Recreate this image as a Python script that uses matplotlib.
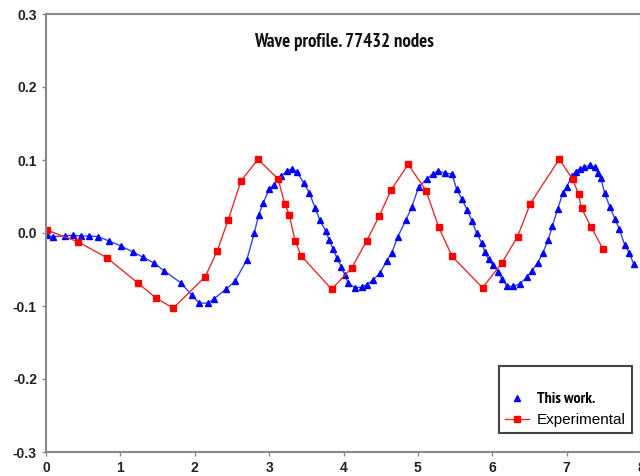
import matplotlib.pyplot as plt
from matplotlib.lines import Line2D
from matplotlib import font_manager

# Experimental (red squares)
exp_x = [0.01, 0.43, 0.82, 1.24, 1.48, 1.71, 2.14, 2.30, 2.45, 2.62, 2.85, 3.12,
         3.21, 3.27, 3.35, 3.43, 3.84, 4.11, 4.31, 4.48, 4.64, 4.87, 5.11, 5.28,
         5.46, 5.87, 6.13, 6.34, 6.51, 6.90, 7.08, 7.16, 7.20, 7.33, 7.49]
exp_y = [0.004, -0.012, -0.034, -0.069, -0.089, -0.103, -0.060, -0.025, 0.018, 0.071, 0.101, 0.074,
         0.040, 0.025, -0.011, -0.031, -0.077, -0.048, -0.011, 0.023, 0.059, 0.094, 0.058, 0.008,
         -0.032, -0.075, -0.041, -0.005, 0.040, 0.101, 0.074, 0.053, 0.034, 0.008, -0.022]

# This work (blue triangles)
sim_x = [0.02, 0.09, 0.26, 0.36, 0.47, 0.58, 0.70, 0.85, 1.01, 1.17, 1.30, 1.45,
         1.59, 1.81, 1.96, 2.06, 2.18, 2.26, 2.42, 2.54, 2.70, 2.80, 2.86, 2.92,
         3.00, 3.06, 3.16, 3.24, 3.31, 3.37, 3.47, 3.54, 3.62, 3.68, 3.76, 3.81,
         3.86, 3.91, 3.97, 4.02, 4.06, 4.15, 4.25, 4.31, 4.40, 4.49, 4.58, 4.65,
         4.73, 4.84, 4.92, 5.01, 5.12, 5.20, 5.27, 5.36, 5.46, 5.52, 5.59, 5.66,
         5.73, 5.79, 5.86, 5.90, 5.95, 6.01, 6.08, 6.13, 6.20, 6.28, 6.37, 6.47,
         6.53, 6.61, 6.68, 6.75, 6.81, 6.88, 6.95, 7.00, 7.07, 7.12, 7.18, 7.24,
         7.31, 7.38, 7.42, 7.46, 7.51, 7.58, 7.65, 7.71, 7.78, 7.84, 7.90]
sim_y = [-0.003, -0.005, -0.004, -0.003, -0.004, -0.004, -0.005, -0.011, -0.018, -0.026, -0.033, -0.041,
         -0.052, -0.068, -0.085, -0.096, -0.096, -0.090, -0.077, -0.066, -0.037, 0.000, 0.025, 0.041,
         0.060, 0.066, 0.078, 0.085, 0.088, 0.084, 0.068, 0.055, 0.034, 0.018, 0.003, -0.010,
         -0.022, -0.034, -0.046, -0.058, -0.068, -0.075, -0.074, -0.071, -0.064, -0.055, -0.038, -0.027,
         -0.005, 0.018, 0.036, 0.063, 0.074, 0.081, 0.085, 0.082, 0.081, 0.060, 0.047, 0.032,
         0.016, 0.000, -0.014, -0.026, -0.036, -0.044, -0.053, -0.063, -0.073, -0.073, -0.070, -0.060,
         -0.052, -0.041, -0.027, -0.010, 0.010, 0.033, 0.055, 0.063, 0.078, 0.084, 0.088, 0.090,
         0.093, 0.090, 0.082, 0.075, 0.055, 0.036, 0.019, 0.005, -0.016, -0.027, -0.042]

xticks = [0, 1, 2, 3, 4, 5, 6, 7, 8]
yticks = [-0.3, -0.2, -0.1, 0.0, 0.1, 0.2, 0.3]

# narrow bold font, if there is one
narrow_fp = None
for f in font_manager.fontManager.ttflist:
    if ('Narrow' in f.fname or 'Condensed' in f.fname) and 'Bold' in f.fname:
        narrow_fp = f.fname
        if 'Narrow' in f.fname:
            break

fig = plt.figure(figsize=(6.4, 4.76), dpi=100)
ax = fig.add_axes([46/640, 24/476, 595/640, 438/476])

ax.plot(sim_x, sim_y, color='#3344ff', lw=1.0, marker='^', ms=4,
        markerfacecolor='#0000ff', markeredgecolor='#0000ff')
ax.plot(exp_x, exp_y, color='#e03030', lw=1.0, marker='s', ms=4.5,
        markerfacecolor='#ff0000', markeredgecolor='#ff0000')

ax.set_xlim(0, 8)
ax.set_ylim(-0.3, 0.3)
ax.set_xticks(xticks)
ax.set_yticks(yticks)
ax.set_yticklabels(['%.1f' % v for v in yticks])

for s in ax.spines.values():
    s.set_color('#8a8a8a')
    s.set_linewidth(1.5)
ax.tick_params(direction='out', length=3, width=1, color='#8a8a8a',
               labelsize=10, labelcolor='#222222')
for lab in ax.get_xticklabels() + ax.get_yticklabels():
    lab.set_fontweight('bold')
    lab.set_family(['Liberation Sans', 'DejaVu Sans'])

if narrow_fp:
    title_fp = font_manager.FontProperties(fname=narrow_fp, size=13.5)
    leg_fp = font_manager.FontProperties(fname=narrow_fp, size=11.5)
else:
    title_fp = font_manager.FontProperties(family='DejaVu Sans', weight='bold', stretch='condensed', size=11)
    leg_fp = font_manager.FontProperties(family='DejaVu Sans', weight='bold', stretch='condensed', size=9)

ax.text(0.5, 0.936, 'Wave profile. 77432 nodes', transform=ax.transAxes,
        ha='center', va='center', fontproperties=title_fp, color='#111111')

handles = [Line2D([], [], ls='none', marker='^', ms=5, color='#0000ff'),
           Line2D([], [], color='#e03030', lw=1.0, marker='s', ms=4, markerfacecolor='#ff0000',
                  markeredgecolor='#ff0000')]
leg = ax.legend(handles, ['This work.', 'Experimental'], loc='lower right',
                bbox_to_anchor=(586/595, (452-433)/438), borderaxespad=0, fancybox=False,
                edgecolor='#444444', framealpha=1, fontsize=11, handlelength=1.6,
                borderpad=0.4, labelspacing=0.45, handletextpad=0.5,
                title=' ', title_fontsize=9)
leg.get_frame().set_linewidth(1.5)
t0, t1 = leg.get_texts()
t0.set_fontproperties(leg_fp)
t1.set_family(['Liberation Sans', 'DejaVu Sans'])
t1.set_fontsize(11)

fig.savefig('out.png', dpi=100)
